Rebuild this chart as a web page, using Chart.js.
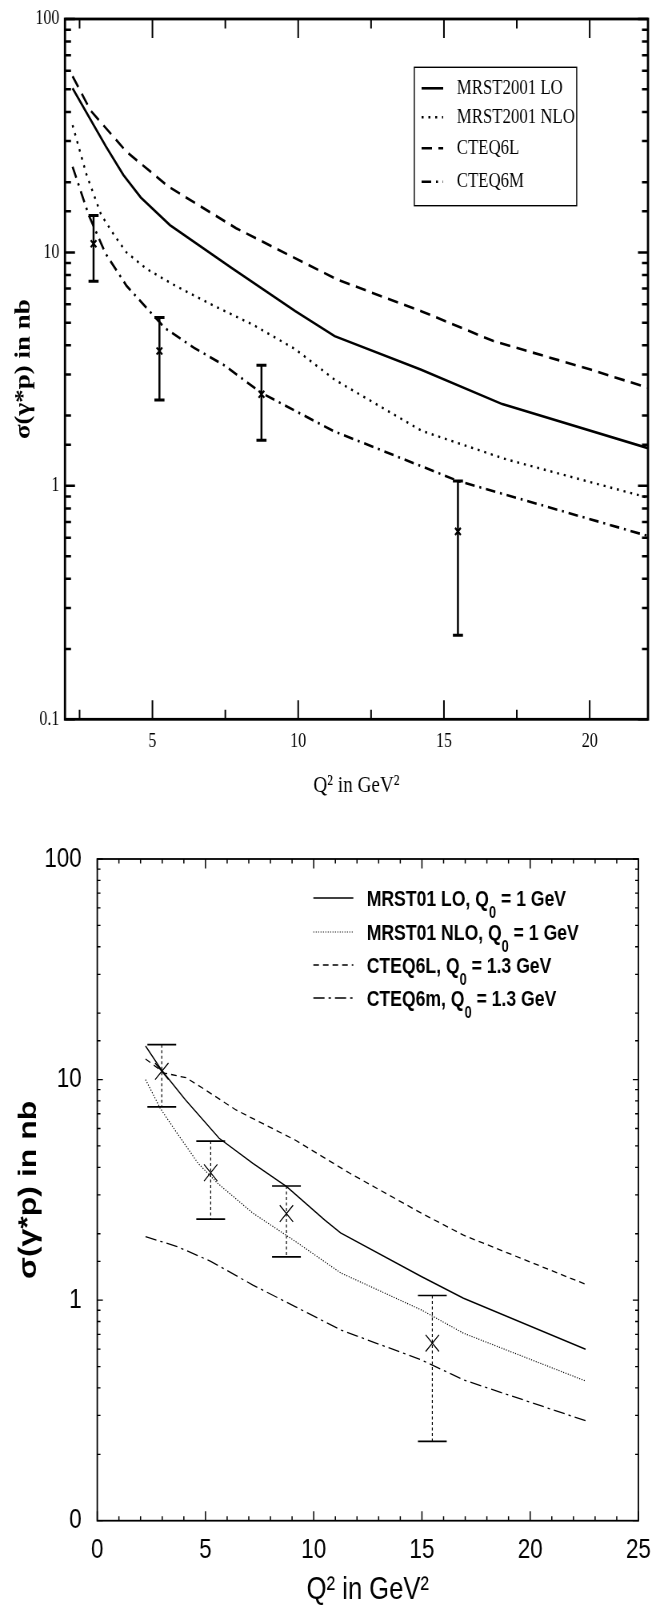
<!DOCTYPE html>
<html>
<head>
<meta charset="utf-8">
<title>σ(γ*p) versus Q²</title>
<script src="https://cdn.jsdelivr.net/npm/chart.js@4.4.1/dist/chart.umd.min.js"></script>
<style>
  html, body { margin:0; padding:0; background:#fff; }
  body { width:662px; height:1610px; overflow:hidden; position:relative; }
  .panel { position:absolute; left:0; }
  .panel canvas { display:block; transform-origin:0 0; transform:scaleX(0.8); }
</style>
</head>
<body>
<div class="panel" style="top:0px"><canvas id="topChart" width="828" height="810" style="width:828px;height:810px"></canvas></div>
<div class="panel" style="top:810px"><canvas id="bottomChart" width="828" height="800" style="width:828px;height:800px"></canvas></div>
<script>
// ---------------- measured data points (shared by both panels) ----------------
const dataQ2    = [2.98, 5.24, 8.74, 15.48];
const dataSigma = [10.9, 3.78, 2.47, 0.638];
const errHigh   = [14.4, 5.26, 3.29, 1.05];
const errLow    = [7.52, 2.33, 1.57, 0.229];

// ---------------- top panel curves ----------------
const topLabels = ['MRST2001 LO', 'MRST2001 NLO', 'CTEQ6L', 'CTEQ6M'];
const topLO_x   = [2.26, 2.8, 3.4, 4.0, 4.6, 5.6, 7.7, 9.9, 11.25, 14.2, 17.0, 22.0];
const topLO_y   = [50.5, 38.5, 28.5, 21.5, 17.2, 13.1, 8.6, 5.6, 4.38, 3.15, 2.24, 1.45];
const topNLO_x  = [2.26, 2.74, 3.24, 3.7, 4.11, 4.8, 5.7, 7.0, 8.45, 9.9, 11.25, 14.24, 17.13, 22.0];
const topNLO_y  = [35.1, 21.5, 14.5, 11.8, 10.0, 8.5, 7.3, 6.0, 4.9, 3.85, 2.85, 1.72, 1.30, 0.89];
const top6L_x   = [2.26, 2.88, 4.11, 5.56, 7.87, 11.35, 14.24, 16.7, 20.03, 22.0];
const top6L_y   = [56.9, 40.5, 27.0, 19.1, 12.7, 7.64, 5.59, 4.17, 3.15, 2.63];
const top6M_x   = [2.26, 2.81, 3.39, 4.11, 5.42, 6.43, 7.44, 8.74, 11.2, 15.48, 18.6, 22.0];
const top6M_y   = [23.3, 14.5, 9.9, 7.2, 4.75, 3.9, 3.3, 2.5, 1.72, 1.05, 0.81, 0.61];

const topXTicks       = [2.5, 5, 7.5, 10, 12.5, 15, 17.5, 20];
const topXLabelValues = [5, 10, 15, 20];
const topXLabels      = ['5', '10', '15', '20'];
const topYLabelValues = [0.1, 1, 10, 100];
const topYLabels      = ['0.1', '1', '10', '100'];

// ---------------- bottom panel curves ----------------
const botLabels = ['MRST01 LO, Q₀ = 1 GeV', 'MRST01 NLO, Q₀ = 1 GeV', 'CTEQ6L, Q₀ = 1.3 GeV', 'CTEQ6m, Q₀ = 1.3 GeV'];
const botLO_x   = [2.23, 2.95, 4.08, 5.63, 7.19, 8.75, 10.5, 11.24, 14.97, 16.92, 22.56];
const botLO_y   = [14.2, 11.1, 8.08, 5.42, 4.17, 3.27, 2.31, 2.02, 1.28, 1.02, 0.599];
const botNLO_x  = [2.23, 2.91, 3.69, 4.66, 5.54, 7.19, 9.14, 11.24, 14.97, 16.92, 22.56];
const botNLO_y  = [10.0, 7.41, 5.71, 4.17, 3.40, 2.48, 1.85, 1.33, 0.903, 0.708, 0.430];
const bot6L_x   = [2.23, 3.1, 4.1, 4.9, 6.41, 9.14, 11.67, 14.97, 16.92, 22.56];
const bot6L_y   = [12.4, 10.7, 10.2, 9.1, 7.28, 5.32, 3.76, 2.48, 1.97, 1.18];
const bot6M_x   = [2.23, 3.69, 5.24, 7.19, 9.14, 11.24, 14.97, 16.92, 22.56];
const bot6M_y   = [1.94, 1.75, 1.50, 1.17, 0.935, 0.733, 0.536, 0.435, 0.284];

const botXTicks       = [0,1,2,3,4,5,6,7,8,9,10,11,12,13,14,15,16,17,18,19,20,21,22,23,24,25];
const botXLabelValues = [0, 5, 10, 15, 20, 25];
const botXLabels      = ['0', '5', '10', '15', '20', '25'];
const botYLabelValues = [0.1, 1, 10, 100];
const botYLabels      = ['0', '1', '10', '100'];

const xTitle = 'Q² in GeV²';
const yTitle = 'σ(γ*p) in nb';

// ---------------- helpers ----------------
const SERIF = "'Liberation Serif', 'Times New Roman', serif";
const SANS  = "'Liberation Sans', Arial, sans-serif";

function pts(xs, ys) { return xs.map((x, i) => ({ x: x, y: ys[i] })); }

function linLabel(values, labels) {
  return (v) => {
    for (let i = 0; i < values.length; i++) if (Math.abs(v - values[i]) < 1e-6) return labels[i];
    return '';
  };
}
function logLabel(values, labels) {
  return (v) => {
    for (let i = 0; i < values.length; i++) if (Math.abs(Math.log10(v) - Math.log10(values[i])) < 1e-6) return labels[i];
    return '';
  };
}

function frameTicksPlugin(cfg) {
  return {
    id: 'frameTicks',
    afterDraw(chart) {
      const ctx = chart.ctx, a = chart.chartArea;
      const xs = chart.scales.x, ys = chart.scales.y;
      ctx.save();
      ctx.strokeStyle = '#000';
      ctx.setLineDash([]);
      ctx.lineCap = 'butt';
      ctx.lineWidth = cfg.xTickWidth;
      ctx.beginPath();
      xs.ticks.forEach(t => {
        const px = xs.getPixelForValue(t.value);
        const r = t.value / cfg.xMajorStep;
        const len = Math.abs(r - Math.round(r)) < 1e-6 ? cfg.xMajor : cfg.xMinor;
        ctx.moveTo(px, a.bottom); ctx.lineTo(px, a.bottom - len);
        ctx.moveTo(px, a.top);    ctx.lineTo(px, a.top + len);
      });
      ctx.stroke();
      ctx.lineWidth = cfg.yTickWidth;
      ctx.beginPath();
      ys.ticks.forEach(t => {
        const py = ys.getPixelForValue(t.value);
        const lg = Math.log10(t.value);
        const len = Math.abs(lg - Math.round(lg)) < 1e-6 ? cfg.yMajor : cfg.yMinor;
        ctx.moveTo(a.left, py);  ctx.lineTo(a.left + len, py);
        ctx.moveTo(a.right, py); ctx.lineTo(a.right - len, py);
      });
      ctx.stroke();
      ctx.lineWidth = cfg.frameWidth;
      ctx.strokeRect(a.left, a.top, a.right - a.left, a.bottom - a.top);
      ctx.restore();
    }
  };
}

function errorBarPlugin(cfg) {
  return {
    id: 'errorBars',
    afterDatasetsDraw(chart) {
      const ctx = chart.ctx, xs = chart.scales.x, ys = chart.scales.y;
      ctx.save();
      ctx.strokeStyle = '#000';
      ctx.lineCap = 'butt';
      dataQ2.forEach((q, i) => {
        const px = xs.getPixelForValue(q);
        const pHi = ys.getPixelForValue(errHigh[i]);
        const pLo = ys.getPixelForValue(errLow[i]);
        ctx.lineWidth = cfg.stemWidth;
        ctx.setLineDash(cfg.stemDash);
        ctx.beginPath(); ctx.moveTo(px, pHi); ctx.lineTo(px, pLo); ctx.stroke();
        ctx.setLineDash([]);
        ctx.lineWidth = cfg.capWidth;
        ctx.beginPath();
        ctx.moveTo(px - cfg.capHalf, pHi); ctx.lineTo(px + cfg.capHalf, pHi);
        ctx.moveTo(px - cfg.capHalf, pLo); ctx.lineTo(px + cfg.capHalf, pLo);
        ctx.stroke();
      });
      ctx.restore();
    }
  };
}

function drawRichText(ctx, text, x, y, font, subFont, subDy) {
  ctx.textBaseline = 'middle';
  ctx.textAlign = 'left';
  const parts = text.split('₀');
  parts.forEach((p, k) => {
    ctx.font = font;
    ctx.fillText(p, x, y);
    x += ctx.measureText(p).width;
    if (k < parts.length - 1) {
      ctx.font = subFont;
      ctx.fillText('0', x, y + subDy);
      x += ctx.measureText('0').width;
    }
  });
}

function legendPlugin(cfg) {
  return {
    id: 'innerLegend',
    afterDraw(chart) {
      const ctx = chart.ctx;
      ctx.save();
      ctx.strokeStyle = '#000';
      ctx.fillStyle = '#000';
      if (cfg.box) {
        ctx.setLineDash([]);
        ctx.lineWidth = cfg.boxWidth;
        ctx.strokeRect(cfg.box[0], cfg.box[1], cfg.box[2], cfg.box[3]);
      }
      const sets = chart.data.datasets.filter(d => d.showInLegend);
      sets.forEach((d, i) => {
        const y = cfg.rows[i];
        ctx.setLineDash(d.borderDash || []);
        ctx.lineWidth = d.borderWidth;
        ctx.lineCap = 'butt';
        ctx.beginPath();
        ctx.moveTo(cfg.sampleX0, y + cfg.sampleDy);
        ctx.lineTo(cfg.sampleX1, y + cfg.sampleDy);
        ctx.stroke();
        ctx.setLineDash([]);
        drawRichText(ctx, d.label, cfg.textX, y, cfg.font, cfg.subFont, cfg.subDy);
      });
      ctx.restore();
    }
  };
}

function lineSet(label, xs, ys, width, dash) {
  return { label: label, data: pts(xs, ys), showLine: true, borderColor: '#000', backgroundColor: '#000',
           borderWidth: width, borderDash: dash, pointRadius: 0, tension: 0, fill: false,
           borderCapStyle: 'butt', showInLegend: true };
}
function markerSet(r, w) {
  return { label: 'data', data: pts(dataQ2, dataSigma), showLine: false, pointStyle: 'crossRot',
           pointRadius: r, pointBorderWidth: w, pointBorderColor: '#000', pointBackgroundColor: '#000',
           showInLegend: false };
}

// ---------------- top panel ----------------
new Chart(document.getElementById('topChart'), {
  type: 'scatter',
  data: {
    datasets: [
      lineSet(topLabels[0], topLO_x,  topLO_y,  2.6, []),
      lineSet(topLabels[1], topNLO_x, topNLO_y, 2.4, [2.5, 6]),
      lineSet(topLabels[2], top6L_x,  top6L_y,  2.6, [13, 8]),
      lineSet(topLabels[3], top6M_x,  top6M_y,  2.6, [12, 6, 2.5, 6]),
      markerSet(5, 2.2)
    ]
  },
  options: {
    responsive: false, animation: false, devicePixelRatio: 1, events: [],
    layout: { padding: { top: 16.7, right: 18, bottom: 0, left: 0 } },
    plugins: { legend: { display: false }, tooltip: { enabled: false } },
    scales: {
      x: {
        type: 'linear', min: 2, max: 22,
        afterBuildTicks: (s) => { s.ticks = topXTicks.map(v => ({ value: v })); },
        afterFit: (s) => { s.height = 90.7; },
        grid: { display: false, drawTicks: false, tickLength: 0 },
        border: { display: false },
        ticks: { autoSkip: false, maxRotation: 0, padding: 10.4, color: '#000',
                 font: { family: SERIF, size: 20 }, callback: linLabel(topXLabelValues, topXLabels) },
        title: { display: true, text: xTitle, color: '#000', font: { family: SERIF, size: 24 },
                 padding: { top: 0, bottom: 10 } }
      },
      y: {
        type: 'logarithmic', min: 0.1, max: 100,
        afterFit: (s) => { s.width = 81.25; },
        grid: { display: false, drawTicks: false, tickLength: 0 },
        border: { display: false },
        ticks: { autoSkip: false, padding: 7, color: '#000',
                 font: { family: SERIF, size: 20 }, callback: logLabel(topYLabelValues, topYLabels) },
        title: { display: true, text: yTitle, color: '#000', font: { family: SERIF, size: 27, weight: 'bold' },
                 padding: { top: 14.2, bottom: 0 } }
      }
    }
  },
  plugins: [
    errorBarPlugin({ stemWidth: 2.5, stemDash: [], capWidth: 3, capHalf: 6.3 }),
    frameTicksPlugin({ frameWidth: 2.8, xTickWidth: 2, yTickWidth: 2.5, xMajor: 19, xMinor: 9.5,
                       yMajor: 12.5, yMinor: 7.5, xMajorStep: 5 }),
    legendPlugin({ box: [517.9, 67.3, 203, 138.4], boxWidth: 1.4, rows: [88.3, 117.3, 148.3, 181.7],
                   sampleX0: 527, sampleX1: 554, sampleDy: 0, textX: 571,
                   font: "21px " + SERIF, subFont: "14px " + SERIF, subDy: 6 })
  ]
});

// ---------------- bottom panel ----------------
new Chart(document.getElementById('bottomChart'), {
  type: 'scatter',
  data: {
    datasets: [
      lineSet(botLabels[0], botLO_x,  botLO_y,  1.4, []),
      lineSet(botLabels[1], botNLO_x, botNLO_y, 1.2, [1.2, 1.8]),
      lineSet(botLabels[2], bot6L_x,  bot6L_y,  1.3, [7, 5]),
      lineSet(botLabels[3], bot6M_x,  bot6M_y,  1.3, [14, 5, 3, 5]),
      markerSet(11.8, 1.3)
    ]
  },
  options: {
    responsive: false, animation: false, devicePixelRatio: 1, events: [],
    layout: { padding: { top: 49, right: 30, bottom: 0, left: 0 } },
    plugins: { legend: { display: false }, tooltip: { enabled: false } },
    scales: {
      x: {
        type: 'linear', min: 0, max: 25,
        afterBuildTicks: (s) => { s.ticks = botXTicks.map(v => ({ value: v })); },
        afterFit: (s) => { s.height = 89.3; },
        grid: { display: false, drawTicks: false, tickLength: 0 },
        border: { display: false },
        ticks: { autoSkip: false, maxRotation: 0, padding: 12.5, color: '#000',
                 font: { family: SANS, size: 28 }, callback: linLabel(botXLabelValues, botXLabels) },
        title: { display: true, text: xTitle, color: '#000', font: { family: SANS, size: 32 },
                 padding: { top: 0, bottom: 0.3 } }
      },
      y: {
        type: 'logarithmic', min: 0.1, max: 100,
        afterFit: (s) => { s.width = 121.6; },
        grid: { display: false, drawTicks: false, tickLength: 0 },
        border: { display: false },
        ticks: { autoSkip: false, padding: 19.5, color: '#000',
                 font: { family: SANS, size: 28 }, callback: logLabel(botYLabelValues, botYLabels) },
        title: { display: true, text: yTitle, color: '#000', font: { family: SANS, size: 32, weight: 'bold' },
                 padding: { top: 17, bottom: 0 } }
      }
    }
  },
  plugins: [
    errorBarPlugin({ stemWidth: 1.2, stemDash: [3, 2.5], capWidth: 1.6, capHalf: 18 }),
    frameTicksPlugin({ frameWidth: 1.8, xTickWidth: 1.5, yTickWidth: 1.3, xMajor: 9.5, xMinor: 4.5,
                       yMajor: 7, yMinor: 4, xMajorStep: 5 }),
    legendPlugin({ box: null, rows: [90, 124, 157, 190],
                   sampleX0: 391.7, sampleX1: 441.7, sampleDy: -2, textX: 458.4,
                   font: "bold 22px " + SANS, subFont: "bold 16px " + SANS, subDy: 14 })
  ]
});
</script>
</body>
</html>
